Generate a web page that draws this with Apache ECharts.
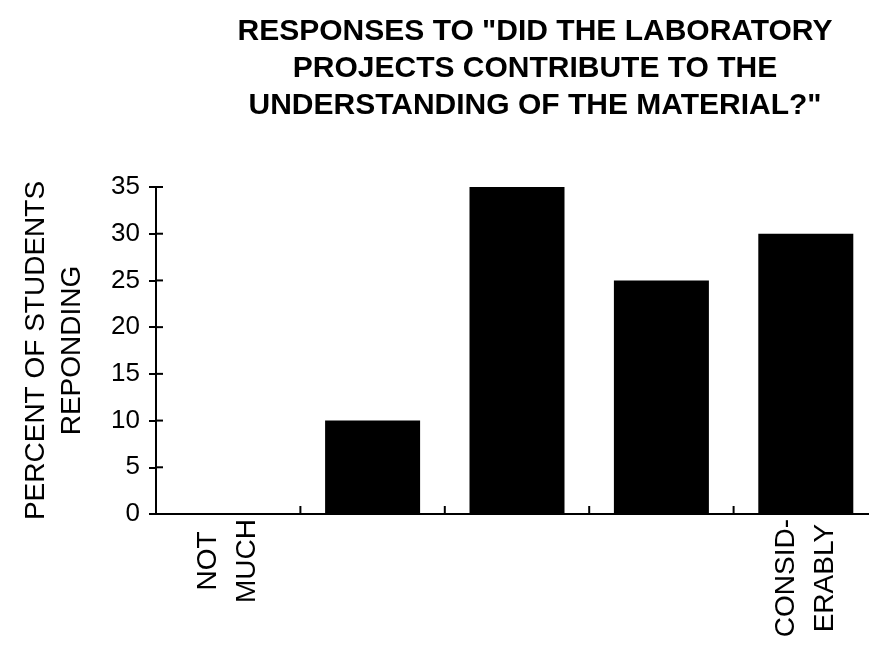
<!DOCTYPE html>
<html>
<head>
<meta charset="utf-8">
<script src="https://cdn.jsdelivr.net/npm/echarts@6/dist/echarts.min.js"></script>
<style>
  html, body { margin: 0; padding: 0; background: #fff; }
  #main { width: 869px; height: 646px; }
</style>
</head>
<body>
<div id="main"></div>
<script>
// data
var categories = ['NOT\nMUCH', '', '', '', 'CONSID-\nERABLY'];
var percents = [0, 10, 35, 25, 30];
var yTicks = [0, 5, 10, 15, 20, 25, 30, 35];
var titleText = 'RESPONSES TO "DID THE LABORATORY\nPROJECTS CONTRIBUTE TO THE\nUNDERSTANDING OF THE MATERIAL?"';
var yName = 'PERCENT OF STUDENTS\nREPONDING';

var chart = echarts.init(document.getElementById('main'));
var font = '"Liberation Sans", Arial, sans-serif';
var tickStyle = { stroke: '#000', lineWidth: 2 };

var option = {
  animation: false,
  title: {
    text: titleText,
    left: 530,
    top: 8,
    textAlign: 'center',
    textStyle: { fontSize: 30, fontWeight: 'bold', fontFamily: font, color: '#000', lineHeight: 37 }
  },
  grid: { left: 156, right: -9, top: 187, bottom: 132, containLabel: false, outerBoundsMode: 'none' },
  xAxis: {
    type: 'category',
    data: categories,
    axisLine: { lineStyle: { color: '#000', width: 2 } },
    axisTick: { length: 8, lineStyle: { color: '#000', width: 2 } },
    axisLabel: {
      rotate: 90,
      margin: 5,
      interval: 0,
      formatter: function (v) {
        return v ? v.split('\n').map(function (s) { return '{c|' + s + '}'; }).join('\n') : '';
      },
      rich: { c: { align: 'center', fontSize: 28, fontFamily: font, color: '#000', lineHeight: 39 } }
    }
  },
  yAxis: {
    type: 'value',
    min: 0, max: 35, interval: 5,
    name: yName,
    nameLocation: 'middle',
    nameRotate: 90,
    nameGap: 66,
    nameTextStyle: { fontSize: 28, fontFamily: font, color: '#000', lineHeight: 36 },
    splitLine: { show: false },
    axisLine: { show: true, lineStyle: { color: '#000', width: 2 } },
    axisTick: { show: true, length: 7, lineStyle: { color: '#000', width: 2 } },
    axisLabel: { margin: 16, fontSize: 26, fontFamily: font, color: '#000' }
  },
  series: [{
    type: 'bar',
    data: percents,
    barWidth: 95,
    itemStyle: { color: '#000' }
  }, {
    // inner half of the y ticks (the axis draws the outer half)
    type: 'custom',
    silent: true,
    data: yTicks.map(function (v) { return [0, v]; }),
    encode: { x: 0, y: 1 },
    renderItem: function (params, api) {
      var y = api.coord([0, api.value(1)])[1];
      var x = params.coordSys.x;
      return { type: 'line', shape: { x1: x, y1: y, x2: x + 7, y2: y }, style: tickStyle };
    }
  }, {
    // inner half of the x ticks, at the left edge of each category band
    type: 'custom',
    silent: true,
    data: categories.map(function (c, i) { return [i, 0]; }),
    encode: { x: 0, y: 1 },
    renderItem: function (params, api) {
      var p = api.coord([api.value(0), 0]);
      var x = p[0] - api.size([1, 0])[0] / 2;
      return { type: 'line', shape: { x1: x, y1: p[1], x2: x, y2: p[1] - 8 }, style: tickStyle };
    }
  }]
};
chart.setOption(option);
</script>
</body>
</html>
